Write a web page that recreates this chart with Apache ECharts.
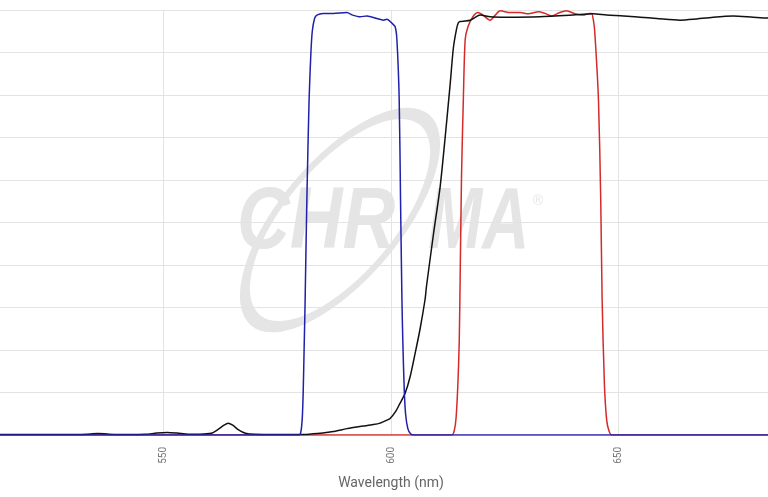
<!DOCTYPE html>
<html>
<head>
<meta charset="utf-8">
<script src="https://cdn.jsdelivr.net/npm/echarts@6/dist/echarts.min.js"></script>
<style>
html,body{margin:0;padding:0;background:#fff;}
#chart{width:768px;height:497px;}
</style>
</head>
<body>
<div id="chart"></div>
<script>
// Wavelength (nm), Transmission (%)
const xTicks = [500, 550, 600, 650, 700];
const yTicks = [0, 10, 20, 30, 40, 50, 60, 70, 80, 90, 100];

const exciter = [ // blue
  [500,0],[579.8,0],[580.2,0.8],[580.5,4],[580.7,10],[580.9,20],[581.1,30],[581.5,55],[582,79],[582.4,90],
  [582.7,95],[583.2,98],[583.7,98.8],[585.1,99.2],[587.3,99.2],[590.3,99.4],[591.6,98.8],[593.2,98.4],
  [594.7,98.6],[596.9,98.0],[598.3,97.6],[599.1,97.8],[600.2,96.9],[600.9,96.1],[601.3,93],[601.8,79],
  [602.1,55],[602.4,32],[602.6,22],[602.9,11],[603.2,5],[603.7,1.5],[604.3,0.3],[605,0],[700,0]
];

const dichroic = [ // black
  [500,0.1],[514,0.1],[530,0.1],[533,0.2],[535.5,0.35],[538,0.2],[542,0.1],[546,0.15],[548.5,0.45],
  [550.8,0.6],[553,0.45],[555.5,0.2],[558,0.2],[560.5,0.4],[562,1.3],[563.3,2.3],[564.2,2.75],[565.2,2.3],
  [566.5,1.2],[568,0.4],[570,0.15],[575,0.1],[580,0.1],[582,0.2],[585,0.45],[587.3,0.8],[590.3,1.5],
  [591.7,1.75],[593.9,2.1],[596.1,2.45],[597.6,2.8],[599.1,3.5],[599.8,3.9],[601,5.5],[602,7.5],
  [603.1,9.8],[604.2,13.7],[605.3,19.2],[606.4,25],[607.5,32],[607.8,35],[609.3,47],[610.8,58.4],
  [611.9,70],[613.0,82.5],[613.7,91],[614.4,95.5],[614.8,97],[615.2,97.3],[616.3,97.4],[617.4,97.6],
  [618.1,98.0],[619.6,98.8],[621.8,98.4],[625.4,98.3],[632.7,98.4],[640,98.8],[644.4,99.1],[647.4,98.8],
  [651.1,98.6],[654.7,98.3],[658.4,98.0],[663.5,97.6],[666.4,97.8],[670.8,98.3],[675.2,98.6],
  [679.6,98.3],[683,98.1],[700,98.1]
];

const emitter = [ // red
  [500,0],[613.4,0],[613.9,1],[614.3,4],[614.7,12],[615.0,22],[615.2,37],[615.5,61],[615.9,79],
  [616.3,93],[616.9,96],[618,98.4],[619.1,99.4],[620.2,98.8],[621.8,97.6],[622.9,98.8],[624,99.8],
  [626.2,99.4],[628.4,99.4],[630.2,99.1],[632.4,99.6],[633.8,99.2],[635.3,98.6],[637.1,99.4],
  [638.6,99.8],[640.4,99.1],[642.2,98.8],[643.7,99.2],[644.1,99.2],[644.5,97.5],[644.8,94.6],
  [645.6,78.8],[646.1,55],[646.4,32],[646.9,12],[647.4,3.5],[647.9,1],[648.5,0],[700,0]
];

const chart = echarts.init(document.getElementById('chart'), null, {renderer: 'canvas'});

const wm = '#e5e5e5';
const wmText = {fill: wm, fontStyle: 'italic', fontWeight: 'bold', fontSize: 88,
  fontFamily: 'Liberation Sans', verticalAlign: 'middle', align: 'left'};
chart.setOption({
  animation: false,
  backgroundColor: '#fff',
  grid: {left: -64, right: -78, top: 10, bottom: 62, containLabel: false, outerBoundsMode: 'none'},
  graphic: [
    {type: 'group', x: 340, y: 220, rotation: 0.87, silent: true, z: 0,
      children: [{type: 'circle', shape: {cx: 0, cy: 0, r: 57}, scaleX: 2.3, scaleY: 1,
        style: {fill: 'none', stroke: wm, lineWidth: 6}}]},
    {type: 'text', x: 237, y: 224, silent: true, z: 0, scaleX: 0.83, scaleY: 1,
      style: Object.assign({text: 'CHR'}, wmText)},
    {type: 'text', x: 428, y: 224, silent: true, z: 0, scaleX: 0.74, scaleY: 1,
      style: Object.assign({text: 'MA'}, wmText)},
    {type: 'text', x: 533, y: 194, silent: true, z: 0,
      style: {text: '®', fill: wm, fontSize: 14, fontFamily: 'Liberation Sans'}}
  ],
  xAxis: {
    type: 'value',
    min: xTicks[0], max: xTicks[xTicks.length - 1], interval: 50,
    name: 'Wavelength (nm)', nameLocation: 'middle', nameGap: 41,
    nameTextStyle: {color: '#666', fontSize: 14, fontFamily: 'Roboto'},
    axisLine: {show: false}, axisTick: {show: false},
    axisLabel: {rotate: 90, margin: 12, color: '#777', fontSize: 10, fontFamily: 'Roboto'},
    splitLine: {show: true, lineStyle: {color: '#e3e3e3', width: 1}}
  },
  yAxis: {
    type: 'value', min: yTicks[0], max: yTicks[yTicks.length - 1], interval: 10,
    axisLine: {show: false}, axisTick: {show: false}, axisLabel: {show: false},
    splitLine: {show: true, lineStyle: {color: '#e3e3e3', width: 1}}
  },
  series: [
    {name: 'Emitter', type: 'line', data: emitter, showSymbol: false, smooth: 0.25, z: 3,
      lineStyle: {color: '#d42a2a', width: 1.5}},
    {name: 'Dichroic', type: 'line', data: dichroic, showSymbol: false, smooth: 0.25, z: 4,
      lineStyle: {color: '#111111', width: 1.5}},
    {name: 'Exciter', type: 'line', data: exciter, showSymbol: false, smooth: 0.25, z: 5,
      lineStyle: {color: '#2020aa', width: 1.5}}
  ]
});
</script>
</body>
</html>
